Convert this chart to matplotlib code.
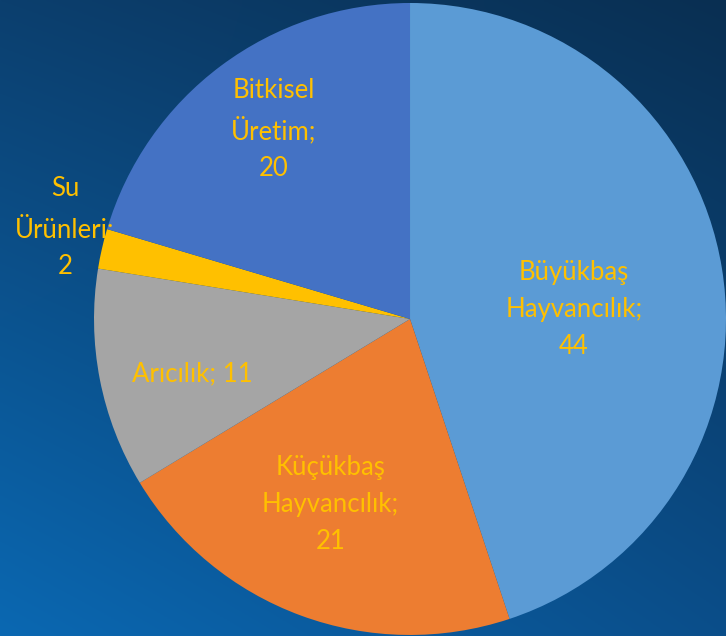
import numpy as np
import matplotlib.pyplot as plt
from matplotlib.colors import to_rgb

# data
labels = ['Büyükbaş\nHayvancılık;\n44', 'Küçükbaş\nHayvancılık;\n21', 'Arıcılık; 11',
          'Su\nÜrünleri;\n2', 'Bitkisel\nÜretim;\n20']
values = [44, 21, 11, 2, 20]
colors = ['#5B9BD5', '#ED7D31', '#A5A5A5', '#FFC000', '#4472C4']
label_r = [0.52, 0.64, 0.71, 1.13, 0.74]   # label distance from center (radius units)
label_shift = [-6, -3, 3, -2, -1]          # small angle tweaks, degrees

fig = plt.figure(figsize=(7.26, 6.36), dpi=100)

# background gradient, bilinear between corner colours
tl, tr = np.array(to_rgb('#0C3F6E')), np.array(to_rgb('#092F52'))
bl, br = np.array(to_rgb('#0A68B2')), np.array(to_rgb('#0B4E8A'))
u = np.linspace(0, 1, 300)[None, :, None]
v = np.linspace(0, 1, 300)[:, None, None]  # 0 at top
img = (1 - v) * ((1 - u) * tl + u * tr) + v * ((1 - u) * bl + u * br)
bg = fig.add_axes([0, 0, 1, 1])
bg.imshow(img, extent=[0, 1, 0, 1], aspect='auto')
bg.axis('off')

ax = fig.add_axes([0.1295, 0.0016, 0.8705, 0.9937])
wedges, _ = ax.pie(values, colors=colors, startangle=90, counterclock=False,
                   radius=1, wedgeprops=dict(linewidth=0))
ax.set_xlim(-1, 1)
ax.set_ylim(-1, 1)
ax.set_aspect('equal')

for w, lab, r, s in zip(wedges, labels, label_r, label_shift):
    ang = np.deg2rad((w.theta1 + w.theta2) / 2 + s)
    ax.text(r * np.cos(ang), r * np.sin(ang), lab, ha='center', va='center',
            color='#FFC000', fontsize=18.5, family='Lato', linespacing=1.6,
            clip_on=False)

fig.savefig('out.png', dpi=100)
